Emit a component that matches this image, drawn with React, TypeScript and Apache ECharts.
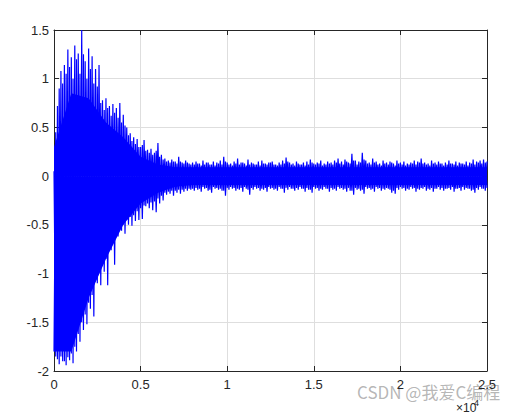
import React, { useEffect, useRef } from "react";
import * as echarts from "echarts";

// sample spacing of the peak arrays (x units)
const STEP = 200;
// upper peaks, one every 200 samples from 0 to 25000
const upperPeaks = [
  0.05, 0.72, 1.08, 1.14, 1.3, 1.22, 1.34, 1.26, 1.5, 1.18,
  1.31, 1.23, 1.1, 1.14, 0.78, 0.8, 0.72, 0.74, 0.7, 0.75,
  0.63, 0.5, 0.44, 0.4, 0.38, 0.3, 0.37, 0.27, 0.28, 0.24,
  0.34, 0.22, 0.18, 0.16, 0.17, 0.15, 0.2, 0.14, 0.16, 0.13,
  0.14, 0.15, 0.13, 0.16, 0.14, 0.12, 0.15, 0.14, 0.16, 0.2,
  0.14, 0.13, 0.15, 0.18, 0.14, 0.13, 0.17, 0.14, 0.12, 0.15,
  0.16, 0.13, 0.14, 0.15, 0.12, 0.14, 0.16, 0.19, 0.14, 0.13,
  0.15, 0.12, 0.14, 0.15, 0.17, 0.13, 0.14, 0.16, 0.13, 0.15,
  0.14, 0.16, 0.18, 0.15, 0.17, 0.14, 0.23, 0.16, 0.15, 0.24,
  0.16, 0.14, 0.18, 0.15, 0.13, 0.16, 0.14, 0.15, 0.13, 0.16,
  0.14, 0.15, 0.13, 0.14, 0.16, 0.15, 0.18, 0.14, 0.13, 0.16,
  0.14, 0.15, 0.13, 0.14, 0.16, 0.13, 0.15, 0.14, 0.13, 0.15,
  0.14, 0.17, 0.15, 0.16, 0.17, 0.15,
];
// lower peaks, same sampling, offset by half a step
const lowerPeaks = [
  -1.85, -1.93, -1.9, -1.94, -1.89, -1.92, -1.8, -1.7, -1.58, -1.52,
  -1.36, -1.44, -1.1, -1.12, -0.98, -1.12, -0.76, -0.91, -0.62, -0.56,
  -0.59, -0.5, -0.51, -0.46, -0.45, -0.44, -0.31, -0.33, -0.35, -0.37,
  -0.28, -0.25, -0.19, -0.18, -0.2, -0.17, -0.18, -0.16, -0.15, -0.14,
  -0.15, -0.14, -0.16, -0.13, -0.15, -0.17, -0.13, -0.14, -0.15, -0.2,
  -0.14, -0.13, -0.15, -0.14, -0.16, -0.13, -0.19, -0.14, -0.13, -0.15,
  -0.14, -0.16, -0.13, -0.14, -0.15, -0.13, -0.17, -0.14, -0.13, -0.15,
  -0.14, -0.13, -0.16, -0.14, -0.17, -0.13, -0.15, -0.14, -0.13, -0.16,
  -0.14, -0.15, -0.13, -0.14, -0.16, -0.15, -0.19, -0.14, -0.15, -0.18,
  -0.13, -0.14, -0.16, -0.13, -0.15, -0.14, -0.13, -0.17, -0.18, -0.14,
  -0.13, -0.15, -0.14, -0.13, -0.16, -0.14, -0.13, -0.15, -0.14, -0.16,
  -0.13, -0.14, -0.15, -0.13, -0.14, -0.16, -0.13, -0.15, -0.14, -0.13,
  -0.15, -0.17, -0.14, -0.13, -0.15, -0.13,
];
// secondary (smaller) peaks between the primary ones
const upperPeaks2 = [
  0.45, 0.9, 0.95, 1.05, 1.12, 1.0, 1.2, 1.05, 1.25, 1.0,
  1.1, 0.95, 0.92, 0.75, 0.68, 0.7, 0.62, 0.65, 0.6, 0.55,
  0.52, 0.42, 0.36, 0.33, 0.3, 0.32, 0.26, 0.24, 0.22, 0.26,
  0.2, 0.17, 0.15, 0.14, 0.15, 0.13, 0.15, 0.13, 0.14, 0.12,
  0.12, 0.13, 0.11, 0.12, 0.14, 0.12, 0.11, 0.13, 0.12, 0.15,
  0.12, 0.11, 0.13, 0.12, 0.14, 0.11, 0.12, 0.13, 0.12, 0.11,
  0.13, 0.12, 0.14, 0.12, 0.11, 0.12, 0.13, 0.15, 0.12, 0.11,
  0.13, 0.12, 0.11, 0.12, 0.14, 0.12, 0.13, 0.11, 0.12, 0.13,
  0.12, 0.14, 0.13, 0.12, 0.15, 0.13, 0.16, 0.12, 0.14, 0.17,
  0.13, 0.12, 0.14, 0.12, 0.11, 0.13, 0.12, 0.14, 0.11, 0.13,
  0.12, 0.11, 0.12, 0.13, 0.12, 0.14, 0.13, 0.12, 0.11, 0.13,
  0.12, 0.13, 0.11, 0.12, 0.13, 0.12, 0.11, 0.13, 0.12, 0.11,
  0.13, 0.12, 0.14, 0.13, 0.14, 0.13,
];
const lowerPeaks2 = [
  -1.8, -1.88, -1.85, -1.9, -1.86, -1.82, -1.75, -1.62, -1.5, -1.42,
  -1.3, -1.22, -1.05, -0.98, -0.9, -0.85, -0.72, -0.68, -0.58, -0.52,
  -0.5, -0.45, -0.42, -0.4, -0.36, -0.33, -0.3, -0.28, -0.27, -0.26,
  -0.23, -0.2, -0.17, -0.16, -0.15, -0.15, -0.14, -0.14, -0.13, -0.13,
  -0.13, -0.12, -0.13, -0.11, -0.12, -0.14, -0.11, -0.12, -0.13, -0.15,
  -0.12, -0.11, -0.12, -0.13, -0.12, -0.11, -0.14, -0.12, -0.11, -0.12,
  -0.13, -0.12, -0.11, -0.12, -0.13, -0.11, -0.13, -0.12, -0.11, -0.13,
  -0.12, -0.11, -0.13, -0.12, -0.14, -0.11, -0.12, -0.13, -0.11, -0.13,
  -0.12, -0.13, -0.11, -0.12, -0.13, -0.12, -0.15, -0.12, -0.13, -0.14,
  -0.11, -0.12, -0.13, -0.11, -0.12, -0.13, -0.12, -0.14, -0.15, -0.12,
  -0.11, -0.12, -0.13, -0.11, -0.12, -0.13, -0.12, -0.11, -0.13, -0.12,
  -0.13, -0.11, -0.12, -0.13, -0.12, -0.11, -0.13, -0.12, -0.11, -0.12,
  -0.13, -0.14, -0.12, -0.11, -0.13, -0.12,
];
// dense body of the signal, one value every 1000 samples
const CORE_STEP = 1000;
const coreUpper = [
  0.3, 0.85, 0.8, 0.55, 0.4, 0.2, 0.12, 0.09, 0.09, 0.09,
  0.09, 0.09, 0.09, 0.09, 0.09, 0.09, 0.09, 0.09, 0.09, 0.09,
  0.09, 0.09, 0.09, 0.09, 0.09, 0.09,
];
const coreLower = [
  -1.8, -1.8, -1.25, -0.85, -0.5, -0.28, -0.17, -0.11, -0.09, -0.09,
  -0.09, -0.09, -0.09, -0.09, -0.09, -0.09, -0.09, -0.09, -0.09, -0.09,
  -0.09, -0.09, -0.09, -0.09, -0.09, -0.09,
];
const xTicksDivisor = 10000;

const AXIS = "#262626";
const GRIDC = "#dedede";
const BLUE = "#0000ff";

export default function App() {
  const ref = useRef<HTMLDivElement>(null);
  useEffect(() => {
    if (!ref.current) return;
    const chart = echarts.init(ref.current, undefined, { renderer: "svg" });
    const X_MAX = 25000;
    const zig: number[][] = [];
    upperPeaks.forEach((u, i) => {
      zig.push([i * STEP, u]);
      const xd = i * STEP + STEP / 2;
      if (xd <= X_MAX) zig.push([xd, lowerPeaks[i]]);
    });
    const zig2: number[][] = [];
    lowerPeaks2.forEach((l, i) => {
      zig2.push([i * STEP, l]);
      const xu = i * STEP + STEP / 2;
      if (xu <= X_MAX) zig2.push([xu, upperPeaks2[i]]);
    });
    const coreU = coreUpper.map((v, i) => [i * CORE_STEP, v]);
    const coreL = coreLower.map((v, i) => [i * CORE_STEP, v]);
    const font = { fontFamily: "Liberation Sans, Arial, sans-serif", fontSize: 13, color: AXIS };
    const baseX = {
      type: "value" as const,
      min: 0,
      max: X_MAX,
      interval: 5000,
      axisLine: { show: true, onZero: false, lineStyle: { color: AXIS, width: 1 } },
      axisTick: { show: true, inside: true, length: 5, lineStyle: { color: AXIS } },
    };
    const baseY = {
      type: "value" as const,
      min: -2,
      max: 1.5,
      interval: 0.5,
      axisLine: { show: true, onZero: false, lineStyle: { color: AXIS, width: 1 } },
      axisTick: { show: true, inside: true, length: 5, lineStyle: { color: AXIS } },
    };
    const lineSeries = (data: number[][], width: number) => ({
      type: "line",
      xAxisIndex: 0,
      yAxisIndex: 0,
      data,
      showSymbol: false,
      lineStyle: { color: BLUE, width },
      silent: true,
    });
    chart.setOption({
      animation: false,
      backgroundColor: "#ffffff",
      grid: { left: 54, right: 45, top: 30, bottom: 44, containLabel: false },
      xAxis: [
        {
          ...baseX,
          position: "bottom",
          axisLabel: {
            ...font,
            margin: 7,
            showMinLabel: true,
            showMaxLabel: true,
            formatter: (v: number) => String(v / xTicksDivisor),
          },
          splitLine: { show: true, lineStyle: { color: GRIDC, width: 1 } },
        },
        {
          ...baseX,
          position: "top",
          axisLabel: { show: false },
          splitLine: { show: false },
        },
      ],
      yAxis: [
        {
          ...baseY,
          position: "left",
          axisLabel: { ...font, margin: 5, showMinLabel: true, showMaxLabel: true },
          splitLine: { show: true, lineStyle: { color: GRIDC, width: 1 } },
        },
        {
          ...baseY,
          position: "right",
          axisLabel: { show: false },
          splitLine: { show: false },
        },
      ],
      series: [
        {
          type: "line",
          xAxisIndex: 0,
          yAxisIndex: 0,
          data: coreU,
          showSymbol: false,
          lineStyle: { width: 0 },
          areaStyle: { color: BLUE, opacity: 1 },
          silent: true,
        },
        {
          type: "line",
          xAxisIndex: 0,
          yAxisIndex: 0,
          data: coreL,
          showSymbol: false,
          lineStyle: { width: 0 },
          areaStyle: { color: BLUE, opacity: 1 },
          silent: true,
        },
        lineSeries(zig2, 1.2),
        lineSeries(zig, 1.2),
      ],
      graphic: [
        {
          type: "text",
          left: 456,
          top: 402,
          style: { text: "×10", fontFamily: "Liberation Sans, Arial, sans-serif", fontSize: 12, fill: AXIS },
        },
        {
          type: "text",
          left: 474,
          top: 398,
          style: { text: "4", fontFamily: "Liberation Sans, Arial, sans-serif", fontSize: 9, fill: AXIS },
        },
        {
          type: "text",
          left: 357,
          top: 383,
          style: {
            text: "CSDN @我爱C编程",
            fontFamily: "Noto Sans CJK SC, sans-serif",
            fontSize: 17,
            fill: "rgba(120,120,120,0.55)",
          },
        },
      ],
    });
    return () => chart.dispose();
  }, []);
  return (
    <div
      ref={ref}
      style={{ position: "fixed", left: 0, top: 0, width: 532, height: 415 }}
    />
  );
}
